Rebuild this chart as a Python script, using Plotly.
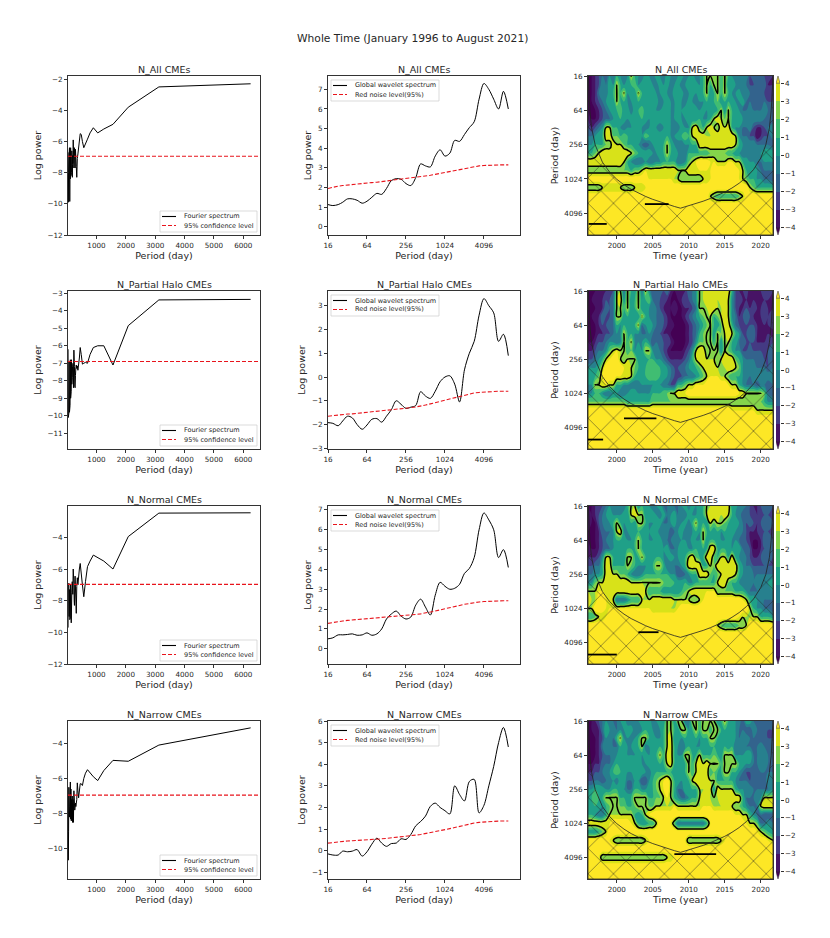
import plotly.graph_objects as go

W, H = 830, 938

panel_titles = ["N_All CMEs", "N_Partial Halo CMEs", "N_Normal CMEs", "N_Narrow CMEs"]

# column 1, fourier spectrum
fourier_periods = [6250, 3125, 2083, 1562, 1250, 1042, 893, 781, 694, 625, 568, 521, 481, 446, 417, 391, 368, 347, 329, 312,
                   298, 284, 272, 260, 250, 240, 231, 223, 216, 208, 202, 195, 189, 184, 178, 174, 160, 150, 140, 130,
                   120, 110, 100, 90, 80, 70, 60, 50, 40, 32]
fourier_all = [-2.3, -2.5, -3.8, -4.9, -5.2, -5.45, -5.12, -5.45, -5.85, -6.2, -6.4, -6.0, -5.55, -5.5, -6.2, -6.65, -6.8, -7.1, -8.3, -7.6,
               -6.9, -6.5, -7.7, -7.0, -6.4, -7.2, -7.7, -6.8, -6.2, -5.9, -6.6, -7.4, -6.9, -7.5, -8.3, -7.4, -6.6, -8.0, -6.9, -8.2,
               -6.4, -8.4, -6.6, -9.85, -6.4, -9.8, -7.0, -8.0, -9.9, -6.7]
fourier_halo = [-3.35, -3.38, -4.85, -7.1, -6.0, -6.0, -6.1, -6.5, -7.0, -6.95, -7.0, -7.05, -6.5, -6.1, -6.7, -7.3, -7.4, -7.15, -7.3, -7.1,
                -7.25, -7.7, -8.4, -8.3, -7.2, -6.4, -6.25, -7.0, -8.4, -7.5, -7.0, -7.7, -8.0, -7.2, -7.8, -7.0, -8.2, -6.8, -8.6, -7.2,
                -9.0, -6.8, -9.4, -7.0, -9.8, -6.9, -9.85, -6.6, -10.1, -6.2]
fourier_normal = [-2.45, -2.47, -3.95, -6.0, -5.5, -5.3, -5.12, -5.5, -5.85, -6.8, -7.75, -7.0, -6.0, -5.65, -6.0, -6.8, -7.0, -6.55, -7.1, -8.8,
                  -8.0, -7.0, -6.45, -7.0, -8.3, -8.0, -6.9, -6.6, -6.3, -6.0, -6.5, -7.6, -7.1, -7.6, -7.0, -6.8, -7.5, -8.5, -9.4, -7.6,
                  -7.0, -9.1, -8.0, -9.2, -7.3, -9.0, -6.9, -8.5, -7.0, -9.7]
fourier_narrow = [-3.12, -4.1, -5.02, -4.97, -5.55, -6.12, -5.9, -5.7, -5.5, -5.7, -6.0, -6.4, -6.3, -6.3, -6.9, -7.1, -6.7, -6.25, -7.2, -7.5,
                  -7.6, -7.4, -7.5, -7.8, -7.4, -6.9, -6.7, -7.4, -8.5, -7.8, -7.2, -8.2, -7.4, -8.5, -7.6, -7.0, -8.4, -7.2, -8.4, -6.6,
                  -8.3, -6.2, -8.0, -6.3, -8.2, -7.6, -6.5, -9.0, -10.65, -7.0]
conf_x = [30, 6570]
conf_levels = [-6.95, -6.9, -6.97, -6.95]

# column 2, global wavelet spectrum
wave_periods = [16, 19, 23, 27, 32, 38, 45, 54, 64, 76, 91, 108, 128, 152, 181, 215, 256, 304, 362, 431,
                512, 609, 724, 861, 1024, 1218, 1448, 1722, 2048, 2435, 2896, 3444, 4096, 4871, 5793, 6889, 8192, 9742]
gws_all = [1.13, 1.08, 1.13, 1.25, 1.42, 1.42, 1.35, 1.2, 1.3, 1.5, 1.7, 1.65, 1.95, 2.35, 2.45, 2.42, 2.2, 2.1, 2.5, 3.2,
           3.1, 3.05, 3.6, 3.92, 3.6, 3.75, 4.4, 4.35, 4.7, 5.05, 5.35, 6.5, 7.3, 7.0, 6.5, 6.0, 6.9, 6.0]
gws_halo = [-1.92, -1.95, -2.05, -1.85, -1.65, -1.72, -2.0, -2.2, -2.02, -1.78, -1.75, -1.9, -1.65, -1.38, -1.0, -1.15, -1.32, -1.27, -1.2, -0.62,
            -0.8, -0.9, -0.6, -0.2, 0.0, 0.05, -0.3, -1.05, 0.3, 1.0, 1.5, 2.6, 3.3, 3.0, 2.7, 1.5, 1.8, 0.9]
gws_normal = [0.5, 0.55, 0.7, 0.7, 0.72, 0.75, 0.68, 0.7, 0.8, 0.68, 0.75, 1.0, 1.5, 1.75, 1.9, 1.65, 1.5, 1.6, 2.2, 2.5,
              2.1, 1.7, 2.7, 3.35, 3.15, 3.0, 3.05, 3.25, 3.8, 4.05, 4.6, 6.0, 6.85, 6.5, 6.0, 4.6, 5.0, 4.1]
gws_narrow = [-0.15, -0.2, -0.2, -0.02, -0.05, -0.02, 0.05, -0.25, -0.05, 0.3, 0.58, 0.35, 0.2, 0.33, 0.35, 0.55, 0.52, 0.75, 1.15, 1.35,
              1.6, 2.05, 2.2, 2.0, 1.85, 1.7, 3.0, 2.6, 2.3, 3.2, 3.3, 1.75, 2.1, 3.0, 3.9, 5.0, 5.7, 4.8]
red_all = [1.95, 2.02, 2.07, 2.1, 2.13, 2.16, 2.19, 2.21, 2.22, 2.25, 2.27, 2.3, 2.33, 2.35, 2.38, 2.42, 2.44, 2.47, 2.5, 2.53,
           2.57, 2.62, 2.67, 2.72, 2.77, 2.82, 2.87, 2.93, 2.98, 3.02, 3.07, 3.1, 3.12, 3.14, 3.15, 3.15, 3.15, 3.15]
red_halo = [-1.65, -1.62, -1.6, -1.58, -1.56, -1.55, -1.53, -1.51, -1.5, -1.48, -1.46, -1.44, -1.42, -1.39, -1.37, -1.34, -1.32, -1.29, -1.26, -1.23,
            -1.18, -1.13, -1.08, -1.02, -0.97, -0.92, -0.86, -0.8, -0.75, -0.71, -0.67, -0.65, -0.63, -0.62, -0.61, -0.6, -0.6, -0.6]
red_normal = [1.28, 1.33, 1.37, 1.4, 1.43, 1.45, 1.47, 1.49, 1.5, 1.52, 1.54, 1.56, 1.58, 1.6, 1.62, 1.65, 1.67, 1.7, 1.73, 1.76,
              1.8, 1.85, 1.9, 1.96, 2.02, 2.07, 2.13, 2.19, 2.24, 2.28, 2.33, 2.36, 2.38, 2.4, 2.41, 2.41, 2.42, 2.42]
red_narrow = [0.35, 0.38, 0.41, 0.43, 0.45, 0.46, 0.47, 0.48, 0.49, 0.51, 0.53, 0.55, 0.57, 0.59, 0.61, 0.64, 0.66, 0.69, 0.72, 0.75,
              0.79, 0.83, 0.87, 0.92, 0.97, 1.02, 1.07, 1.13, 1.18, 1.23, 1.28, 1.31, 1.33, 1.35, 1.36, 1.37, 1.37, 1.37]

# column 3, wavelet power, one row per period, one value per half year
power_years = [1996, 1996.5, 1997, 1997.5, 1998, 1998.5, 1999, 1999.5, 2000, 2000.5,
               2001, 2001.5, 2002, 2002.5, 2003, 2003.5, 2004, 2004.5, 2005, 2005.5,
               2006, 2006.5, 2007, 2007.5, 2008, 2008.5, 2009, 2009.5, 2010, 2010.5,
               2011, 2011.5, 2012, 2012.5, 2013, 2013.5, 2014, 2014.5, 2015, 2015.5,
               2016, 2016.5, 2017, 2017.5, 2018, 2018.5, 2019, 2019.5, 2020, 2020.5,
               2021, 2021.7]
power_periods = [16, 23, 32, 45, 64, 91, 128, 181, 256, 362, 512, 724, 1024, 1448, 2048, 2896, 4096, 5793, 8192, 9830]
yellow = [5] * 52

power_all = [
    [-4,-4,-3,-2,-1,-2,0,-1,1,0, -1,0,3,1,0,-1,1,0,-1,1, 0,-1,1,0,-1,0,1,-1,0,1, -1,0,1,3,3,3,3,1,3,1, 0,-1,0,-1,0,-2,-1,-2,-1,-2, -2,-3],
    [-4,-4,-3,-2,0,-1,1,0,3,1, 0,1,1,2,0,1,0,1,0,-1, 1,0,1,-1,0,1,-1,0,1,0, 1,0,1,3,1,3,3,1,3,0, 1,0,-1,0,-1,-2,-2,-1,-2,-1, -3,-3],
    [-4,-4,-3,-1,0,-1,1,1,3,1, 3,0,1,0,3,1,1,0,1,0, 0,1,0,-1,1,0,1,-1,0,1, 0,1,1,3,0,1,3,1,3,1, 0,0,1,-1,0,-1,-1,-2,-1,-2, -2,-2],
    [-4,-4,-3,-2,-1,0,1,0,3,1, 1,0,0,1,1,0,1,0,1,1, -1,0,1,0,0,1,0,-1,1,0, -1,0,0,1,1,1,2,0,1,1, 1,0,0,1,-1,-1,-1,-2,-1,-1, -2,-2],
    [-4,-4,-4,-3,-2,-1,0,1,1,2, 0,1,-1,1,1,2,0,1,1,0, 0,1,1,0,0,1,0,1,0,1, 1,0,1,0,1,0,1,3,0,3, 1,1,0,-1,-1,0,-1,-1,-1,0, -1,-1],
    [-3,-4,-4,-3,-2,-1,-1,0,1,1, 1,0,1,1,0,1,1,0,1,1, 1,1,1,0,0,1,0,0,1,0, 0,1,0,0,1,3,4,3,2,3, 1,1,1,0,0,-1,0,0,0,-1, -1,-2],
    [-2,-3,-2,-1,0,3,3,1,1,0, -1,0,0,1,1,0,-1,0,1,0, -1,0,1,0,0,-1,1,0,0,3, 4,2,1,3,4,3,2,4,3,4, 1,0,0,-1,-1,0,-2,-3,-3,-2, -1,0],
    [-1,-1,0,1,1,4,4,2,2,1, 2,1,1,1,1,0,2,1,1,1, 1,1,1,0,0,1,1,2,1,3, 4,4,4,3,3,4,4,4,4,4, 4,3,0,-1,-1,-2,-2,-4,-3,-2, -2,0],
    [0,0,1,1,1,2,2,4,3,3, 2,1,1,0,0,-1,-2,-1,0,1, 1,1,3,1,0,-1,-1,0,0,1, 1,4,4,4,4,4,4,4,4,4, 4,3,1,0,0,0,0,-1,-1,-1, -1,-2],
    [1,1,2,3,4,4,4,4,4,4, 4,4,3,2,1,1,1,1,0,0, 1,1,3,1,1,0,0,-1,1,1, 1,1,1,1,2,2,2,2,2,1, 1,0,0,-1,-1,-1,-1,0,0,1, 1,1],
    [4,4,4,4,4,4,4,4,4,4, 3,1,0,-1,-1,-1,0,-1,-1,0, 0,1,1,1,1,-1,-1,0,2,3, 4,5,5,5,4,4,3,3,3,4, 4,3,3,1,1,0,0,-1,-1,0, 0,0],
    [2,2,2,2,2,2,2,2,2,2, 2,2,1,2,2,3,4,4,4,4, 4,4,4,4,4,3,3,3,4,4, 4,4,4,4,4,5,5,5,5,5, 5,5,4,3,1,1,1,0,-1,-1, -1,-1],
    [5,5,5,5,5,5,5,5,5,5, 5,5,5,5,5,5,5,4,4,4, 4,4,4,4,3,3,2,2,2,2, 2,2,3,3,4,5,5,5,5,5, 5,5,4,3,2,1,1,0,0,-1, -1,-2],
    [2,2,2,2,3,3,3,3,3,3, 2,2,2,3,3,3,4,5,5,5, 5,5,5,5,5,5,5,5,5,5, 5,5,5,5,5,5,5,5,5,5, 5,5,5,5,5,3,2,1,1,1, 1,1],
    [5,5,5,5,5,5,5,5,5,5, 5,5,5,5,5,5,5,5,5,5, 5,5,5,5,5,5,5,5,5,5, 5,5,5,5,3,2,1,1,1,1, 1,1,2,3,5,5,5,5,5,5, 5,5],
    yellow, yellow, yellow, yellow, yellow,
]
power_halo = [
    [-4,-4,-4,-3,-4,-3,-3,-2,3,3, -1,3,1,0,3,-1,3,0,-2,-1, -1,-2,-1,-3,-4,-3,-3,-3,-1,-1, 0,3,3,4,3,4,4,3,4,4, 1,-2,-3,-3,-2,-4,-4,-3,-3,-2, -2,-3],
    [-4,-4,-3,-3,-3,-2,-2,-1,3,4, 0,3,0,1,3,0,1,2,-1,-1, -2,-2,-3,-4,-4,-4,-3,-2,-2,-1, 0,3,3,4,4,4,3,4,4,3, 0,-2,-2,-3,-3,-3,-3,-3,-3,-3, -3,-3],
    [-4,-4,-4,-3,-3,-1,-2,-1,3,3, 1,3,0,1,3,0,1,0,0,-1, -2,-3,-3,-4,-3,-4,-4,-3,-3,-2, -1,3,3,3,4,4,3,3,4,3, 0,-2,-3,-3,-2,-3,-2,-3,-3,-2, -3,-3],
    [-4,-4,-3,-3,-1,-2,-2,-1,3,3, 0,1,0,1,0,3,1,0,0,-1, -1,-2,-3,-4,-4,-4,-4,-3,-2,-1, 0,1,2,3,3,1,2,3,4,3, 0,-1,-3,-2,-1,-2,-3,-3,-3,-2, -3,-2],
    [-4,-4,-4,-3,-2,-2,-1,-1,1,0, 1,1,0,1,3,-1,0,1,0,-1, -1,-2,-3,-3,-4,-4,-4,-4,-3,-2, -1,0,1,2,3,1,0,2,4,4, 1,-1,-2,-3,-2,-2,-2,-3,-4,-3, -3,-2],
    [-4,-4,-4,-3,-3,-2,-2,-1,0,0, 3,1,1,0,0,-1,-1,0,-1,-2, -2,-3,-3,-4,-4,-4,-4,-4,-3,-2, -1,1,2,3,3,0,3,2,3,4, 3,1,0,-2,-2,-1,-1,-3,-3,-3, -3,-4],
    [-4,-4,-3,-2,-2,-1,0,0,-1,0, 3,1,3,0,0,0,1,0,-2,-1, -1,-2,-2,-3,-4,-4,-4,-4,-3,-2, 0,2,2,3,3,1,3,0,3,3, 1,1,-1,-1,-2,-2,-2,-3,-3,-3, -2,-2],
    [-3,-3,-2,-1,-1,0,2,3,4,3, 3,1,2,0,1,0,3,3,0,0, -1,-2,-3,-4,-4,-4,-4,-3,-2,0, 3,4,4,2,3,3,3,0,3,2, 1,0,0,-2,-2,-1,-2,-2,-2,-2, -2,-1],
    [-2,-2,-1,0,1,3,4,5,5,3, 2,3,3,3,0,1,0,1,1,0, 0,-1,-2,-3,-3,-3,-3,-2,-1,1, 3,4,4,3,3,3,2,3,4,4, 4,2,1,0,-1,-1,-1,-1,-1,-2, -2,-1],
    [0,0,0,1,3,5,5,5,5,5, 4,4,3,2,1,1,1,2,2,2, 1,1,0,-1,-2,-2,-1,-1,0,1, 1,2,3,4,4,4,3,3,3,4, 4,3,2,0,0,0,0,-1,-1,-1, -2,-1],
    [1,1,1,2,4,5,5,5,4,4, 4,4,3,1,1,1,1,2,2,2, 1,1,0,-1,-2,-3,-2,-1,-1,-1, 0,1,2,3,4,4,4,3,3,2, 1,1,1,0,0,-1,0,0,0,0, 0,0],
    [0,0,3,3,4,4,3,3,1,1, 0,0,-1,-1,-1,0,0,0,0,0, 0,-1,-1,-2,-2,1,1,2,3,3, 4,4,4,5,5,5,5,5,5,4, 3,3,1,0,-1,-1,-1,-2,-1,-1, -2,-1],
    [0,0,1,1,0,-1,-1,0,0,-1, -1,0,1,1,0,0,0,0,1,1, 1,2,2,3,3,4,4,4,5,5, 5,5,5,5,5,5,5,5,5,5, 5,5,4,4,3,3,3,3,3,2, -1,-2],
    [2,2,2,2,2,2,2,2,2,2, 2,1,1,1,1,1,1,1,2,2, 2,2,2,2,2,2,2,2,2,2, 2,2,2,2,2,2,2,2,2,2, 2,2,2,2,2,2,2,2,2,1, 0,0],
    [5,5,5,5,5,5,5,5,5,5, 5,5,5,5,5,5,5,5,5,5, 5,5,5,5,5,5,5,5,5,5, 5,5,5,5,5,5,5,5,5,5, 4,4,4,4,4,4,4,3,3,3, 3,3],
    yellow, yellow, yellow, yellow, yellow,
]
power_normal = [
    [-4,-4,-3,-2,-2,-1,0,-1,0,0, -1,1,3,3,0,1,1,0,-1,0, 1,-1,-1,0,-1,-1,0,1,-1,1, 0,1,1,3,3,4,3,4,3,4, 0,1,-1,0,-1,-2,-3,-3,-2,-1, -1,-2],
    [-3,-4,-3,-2,-1,0,1,0,0,0, 1,0,3,4,3,3,0,1,1,0, -1,1,-1,0,1,-1,0,-1,1,0, 0,1,1,3,4,4,4,3,4,3, 1,0,0,-2,-1,-2,-2,-3,-2,-2, -2,-3],
    [-3,-4,-4,-2,-1,0,0,1,3,1, 0,1,1,0,3,3,1,0,0,1, 1,-1,-1,0,1,-1,0,1,-1,1, 3,0,1,0,3,2,3,3,2,1, 1,1,0,-1,-2,-1,-2,-3,-2,-1, -1,-2],
    [-4,-4,-4,-3,-1,-1,-1,0,3,4, 0,0,1,0,1,0,1,0,1,1, -1,0,0,-2,-1,0,1,-1,0,0, 1,0,3,1,1,0,1,0,1,0, 1,0,0,-1,-2,-3,-3,-3,-2,-2, -2,-2],
    [-4,-4,-4,-3,-2,-1,0,0,1,1, 1,0,0,1,3,1,1,0,0,1, 1,-1,-1,-1,0,-1,0,0,-1,1, 0,0,3,0,1,1,1,0,0,1, 0,0,-1,-1,-2,-3,-4,-4,-3,-1, -1,-2],
    [-3,-4,-4,-3,-2,-1,-1,0,1,1, 1,1,1,1,3,1,0,1,1,0, 1,0,1,-1,-1,0,1,1,0,0, 1,1,1,1,4,4,1,1,1,1, 0,1,1,-1,-1,-2,-4,-4,-3,-2, -2,-1],
    [-3,-3,-3,-2,0,3,3,1,1,0, 0,3,3,1,1,3,1,0,1,1, 1,0,0,1,0,0,1,1,3,4, 2,1,1,4,4,2,1,3,3,1, 4,1,0,0,-1,-2,-3,-3,-2,-1, -1,-2],
    [-2,-2,-1,-1,1,4,4,1,1,1, 1,3,2,1,0,0,0,1,1,3, 3,1,-1,-1,-1,-1,0,1,4,4, 4,4,1,1,3,2,4,4,4,4, 4,4,1,0,-1,-1,-2,-2,-2,-2, -2,-2],
    [-1,-1,0,0,1,4,4,3,3,2, 2,1,0,-1,-1,0,1,1,1,1, 1,1,1,0,0,-2,-2,-1,0,1, 1,4,4,4,2,1,2,3,4,4, 4,3,1,0,0,0,-1,-1,-1,-1, -1,-1],
    [0,0,2,3,3,4,4,4,4,4, 4,4,3,3,3,3,3,3,3,3, 3,2,2,2,1,1,1,1,0,0, 1,1,1,1,1,1,3,4,4,2, 1,1,0,-1,-1,0,-1,0,0,0, 0,1],
    [3,3,3,4,4,4,4,4,4,4, 4,4,4,4,4,4,3,1,1,1, 1,0,0,0,0,0,1,2,3,4, 4,4,4,4,4,4,2,2,2,2, 2,1,1,1,0,-1,-1,-1,0,0, 0,0],
    [4,3,3,5,5,4,3,3,-1,-1, -1,0,1,1,1,3,3,3,4,4, 4,4,4,4,3,3,3,3,3,2, 2,3,4,5,5,5,5,5,5,5, 5,5,5,4,3,1,1,0,0,-1, -1,-1],
    [3,3,5,5,5,4,4,4,4,4, 4,4,4,4,4,4,4,4,3,3, 3,3,3,3,3,4,5,5,5,5, 5,5,5,5,5,5,5,5,5,5, 5,5,5,5,5,3,1,0,0,-1, -1,-2],
    [1,1,2,3,3,4,5,5,5,5, 5,5,5,5,5,5,5,5,5,5, 5,5,5,5,5,5,5,5,5,5, 5,5,5,5,5,5,5,5,5,5, 5,5,4,3,3,3,3,3,1,1, 1,0],
    [5,5,5,5,5,5,5,5,5,5, 5,5,5,5,5,5,5,5,5,5, 5,5,5,5,5,5,5,5,5,5, 5,5,5,5,5,5,3,2,1,1, 1,1,2,2,3,5,5,5,5,5, 5,5],
    yellow, yellow, yellow, yellow, yellow,
]
power_narrow = [
    [-4,-4,-3,-2,-1,0,0,-1,-1,0, 1,-1,-1,0,0,1,0,1,-1,0, 1,0,3,3,0,3,3,-1,-1,3, 3,1,3,3,3,3,0,1,3,1, 1,0,0,-2,1,1,-1,-1,-1,-1, -1,-1],
    [-4,-4,-3,-3,-1,1,0,0,-1,0, 0,1,1,-1,-1,0,1,1,0,0, 0,1,3,3,1,0,3,3,0,1, 3,1,3,3,1,3,3,1,1,1, 1,0,-1,-1,-2,-2,0,-1,-1,-1, -2,-2],
    [-4,-4,-4,-3,-2,0,0,-1,1,3, 0,0,-1,0,1,3,3,1,1,0, 0,1,3,4,0,1,0,1,0,1, 1,0,1,1,3,3,1,0,1,0, 1,0,-1,0,0,-1,-1,-2,-2,-1, -2,-2],
    [-4,-4,-4,-3,-1,0,0,-1,-1,1, 1,0,0,1,1,3,-1,0,1,1, 1,1,3,4,1,0,-1,0,1,0, 0,0,1,0,1,1,0,1,1,0, 1,-1,0,-1,-1,-1,-2,-1,0,-1, -1,-1],
    [-4,-4,-4,-3,-2,-1,-1,0,0,1, 1,0,0,0,1,0,1,0,1,1, 3,1,4,4,1,0,0,3,3,1, 1,3,1,1,1,2,1,0,3,3, 3,0,0,0,1,1,-1,-1,0,0, -1,-1],
    [-4,-4,-3,-3,-1,-1,-1,0,1,1, 0,1,1,1,1,0,0,1,1,1, 1,1,3,4,1,1,1,1,3,1, 3,4,3,4,3,3,3,1,3,3, 3,3,1,1,0,0,-1,-1,0,0, -1,-1],
    [-3,-3,-2,-2,-1,0,0,1,2,1, 1,0,0,1,1,1,0,-1,1,1, 1,1,1,1,0,1,1,1,3,1, 3,4,3,4,1,2,1,1,3,3, 1,1,0,-1,-2,-2,-1,-1,-1,-1, -1,-1],
    [-2,-2,-1,-1,-2,-1,0,0,-1,1, 1,-1,-1,0,0,-2,-2,0,1,2, 3,4,5,3,1,1,0,1,1,3, 4,4,4,4,3,3,1,1,1,1, 1,0,-1,-1,-1,-2,-1,-1,-2,-2, 0,0],
    [0,0,1,1,1,0,0,1,1,0, 0,-1,-1,1,1,0,0,1,1,2, 3,4,5,3,1,-1,-1,1,1,1, 1,3,3,4,4,0,4,3,3,3, 3,1,0,0,0,0,-1,-1,-1,-1, -1,0],
    [1,1,2,1,1,3,3,3,3,1, 1,1,1,3,3,3,3,1,1,2, 2,3,4,3,1,0,-1,-1,0,1, 1,3,4,4,3,3,3,4,4,4, 4,4,4,1,-1,-1,-1,0,0,3, 3,3],
    [1,1,1,1,0,1,2,3,3,2, 2,1,1,2,3,3,3,2,2,3, 3,3,3,3,4,3,3,3,3,3, 3,3,4,4,4,3,3,3,3,3, 3,2,2,1,0,-1,-1,-1,3,4, 4,4],
    [1,1,0,-1,-1,1,3,3,3,3, 3,3,3,1,0,1,3,4,5,5, 5,5,5,5,5,5,5,5,5,5, 5,5,5,5,5,5,5,5,5,5, 5,4,4,3,3,1,0,-1,-1,-2, -2,-2],
    [4,4,4,4,4,4,4,5,5,5, 5,5,4,3,1,0,0,1,1,3, 5,5,5,4,2,-1,-1,-1,-1,-1, -1,-1,-1,1,4,5,5,5,5,5, 5,5,5,5,4,3,3,2,-1,-1, 0,-1],
    [0,0,0,1,2,3,5,5,5,5, 5,5,5,5,5,5,5,5,5,5, 5,5,5,5,5,5,5,5,5,5, 5,5,5,5,5,5,5,5,5,5, 5,5,5,5,5,5,5,4,3,2, 1,0],
    [5,5,5,5,5,5,4,3,2,2, 2,2,2,2,2,2,3,4,5,5, 5,5,5,5,5,5,5,4,2,2, 2,2,2,2,2,2,2,3,4,5, 5,5,5,5,5,5,5,5,5,5, 4,3],
    yellow,
    [5,5,5,4,2,2,2,2,2,2, 2,2,2,2,2,2,2,2,2,2, 2,2,3,3,4,4,5,5,5,5, 5,5,5,5,5,5,5,5,5,5, 5,5,5,5,5,5,5,5,5,5, 5,5],
    yellow, yellow, yellow,
]

# cone of influence
coi_years = [1996.06, 1996.12, 1996.25, 1996.5, 1997, 1998, 1999, 2000, 2001, 2002, 2003, 2004, 2005, 2006, 2007, 2008, 2008.85,
             2010, 2011, 2012, 2013, 2014, 2015, 2016, 2017, 2018, 2019, 2020, 2020.7, 2021.2, 2021.45, 2021.58, 2021.64]
coi_periods = [16, 31, 65, 130, 259, 518, 777, 1036, 1295, 1554, 1813, 2072, 2331, 2590, 2849, 3108, 3330,
               3030, 2770, 2510, 2250, 1990, 1735, 1475, 1215, 955, 700, 440, 259, 130, 65, 31, 16]

# short significance bars low in the scalograms: start year, end year, period
sig_all = [(1996.1, 1998.6, 6290), (2003.9, 2007.2, 2820)]
sig_halo = [(1996, 1998.1, 6700), (2001, 2005.5, 2830)]
sig_normal = [(1996, 2000, 6700), (2003, 2005.8, 2700)]
sig_narrow = [(2008, 2013.8, 3565)]

fourier_rows = [fourier_all, fourier_halo, fourier_normal, fourier_narrow]
gws_rows = [gws_all, gws_halo, gws_normal, gws_narrow]
red_rows = [red_all, red_halo, red_normal, red_narrow]
power_rows = [power_all, power_halo, power_normal, power_narrow]
sig_rows = [sig_all, sig_halo, sig_normal, sig_narrow]
for grid in power_rows:
    assert all(len(r) == len(power_years) for r in grid) and len(grid) == len(power_periods)

# pixel boxes and ranges
row_top = [76, 291, 506, 721]
row_bottom = [235, 449, 664, 879]
col_box = [(68, 260), (328, 520), (588, 773)]
bar_box = (776, 780)
left_ranges = [(-12, -1.8), (-11.9, -2.87), (-12, -2.02), (-11.72, -2.73)]
left_ticks = [[-2, -4, -6, -8, -10, -12], [-3, -4, -5, -6, -7, -8, -9, -10, -11], [-4, -6, -8, -10, -12], [-4, -6, -8, -10]]
mid_ranges = [(-0.42, 7.68), (-3.03, 3.62), (-0.77, 7.2), (-1.31, 6.0)]
mid_ticks = [[0, 1, 2, 3, 4, 5, 6, 7], [-3, -2, -1, 0, 1, 2, 3], [0, 1, 2, 3, 4, 5, 6, 7], [-1, 0, 1, 2, 3, 4, 5, 6]]
period_ticks = [16, 64, 256, 1024, 4096]
x_log_range = [1.2041, 4.169]
y_log_range = [3.9926, 1.2041]

bands = ["#440154", "#471365", "#443a83", "#33638d", "#27808e", "#1fa088", "#40bd72", "#84d44b", "#d8e219", "#fde725"]
band_scale = []
for i, c in enumerate(bands):
    band_scale += [[i / 10, c], [(i + 1) / 10, c]]
bar_mids = [-3.5, -2.5, -1.5, -0.5, 0.5, 1.5, 2.5, 3.5]
bar_edges = [-4, -3, -2, -1, 0, 1, 2, 3, 4]

FONT = "DejaVu Sans"
INK = "#262626"
RED = "#e8141c"
HATCH = dict(shape="x", size=18, solidity=0.1, fgcolor="#222222", bgcolor="rgba(0,0,0,0)")


def xdom(box):
    return [box[0] / W, box[1] / W]


def ydom(top, bottom):
    return [1 - bottom / H, 1 - top / H]


def ref(letter, n):
    return letter if n == 1 else letter + str(n)


def lay(letter, n):
    return letter + "axis" + ("" if n == 1 else str(n))


axis_style = dict(showline=True, mirror=True, linecolor="#333333", linewidth=0.8, ticks="outside", ticklen=3, tickwidth=0.7,
                  tickcolor="#333333", showgrid=False, zeroline=False, automargin=False, tickfont=dict(size=7.2, color=INK),
                  title_font=dict(size=9.5, color=INK))

fig = go.Figure()
layout = {}
notes = []
boxes = []


def px_line(x0, x1, y, **line):
    boxes.append(dict(type="line", xref="paper", yref="paper", x0=x0 / W, x1=x1 / W, y0=1 - y / H, y1=1 - y / H, line=line))


def px_text(text, x, y, size, anchor="center"):
    notes.append(dict(text=text, x=x / W, y=1 - y / H, xref="paper", yref="paper", xanchor=anchor, yanchor="middle",
                      showarrow=False, font=dict(size=size, color=INK)))


def add_legend(left, right, top, bottom, first, second):
    # plotly legend rows cannot go below 19px, the boxes here are much tighter
    boxes.append(dict(type="rect", xref="paper", yref="paper", x0=left / W, x1=right / W, y0=1 - bottom / H, y1=1 - top / H,
                      fillcolor="rgba(255,255,255,0.8)", line=dict(color="#cccccc", width=0.7)))
    px_line(left + 2, left + 16, top + 5.5, color="black", width=1.1)
    px_line(left + 2, left + 16, top + 14.5, color=RED, width=1.1, dash="4px,2px")
    px_text(first, left + 22, top + 5.5, 6.5, "left")
    px_text(second, left + 22, top + 14.5, 6.5, "left")


n = 0
for row in range(4):
    # fourier spectrum
    n += 1
    fig.add_trace(go.Scatter(x=fourier_periods, y=fourier_rows[row], mode="lines", line=dict(color="black", width=1),
                             xaxis=ref("x", n), yaxis=ref("y", n)))
    fig.add_trace(go.Scatter(x=conf_x, y=[conf_levels[row]] * 2, mode="lines", line=dict(color=RED, width=1.1, dash="4px,2px"),
                             xaxis=ref("x", n), yaxis=ref("y", n)))
    layout[lay("x", n)] = dict(axis_style, domain=xdom(col_box[0]), range=[30, 6570], anchor=ref("y", n),
                               tickvals=[1000, 2000, 3000, 4000, 5000, 6000], title=dict(text="Period (day)", standoff=3))
    layout[lay("y", n)] = dict(axis_style, domain=ydom(row_top[row], row_bottom[row]), range=list(left_ranges[row]),
                               anchor=ref("x", n), tickvals=left_ticks[row], title=dict(text="Log power", standoff=4))
    add_legend(160, 257, row_bottom[row] - 24, row_bottom[row] - 3, "Fourier spectrum", "95% confidence level")
    px_text(panel_titles[row], sum(col_box[0]) / 2, row_top[row] - 7, 9.5)

    # global wavelet spectrum
    n += 1
    fig.add_trace(go.Scatter(x=wave_periods, y=gws_rows[row], mode="lines", line=dict(color="black", width=1, shape="spline", smoothing=0.9),
                             xaxis=ref("x", n), yaxis=ref("y", n)))
    fig.add_trace(go.Scatter(x=wave_periods, y=red_rows[row], mode="lines", line=dict(color=RED, width=1.1, dash="4px,2px"),
                             xaxis=ref("x", n), yaxis=ref("y", n)))
    layout[lay("x", n)] = dict(axis_style, domain=xdom(col_box[1]), type="log", range=x_log_range, anchor=ref("y", n),
                               tickvals=period_ticks, ticktext=[str(p) for p in period_ticks],
                               title=dict(text="Period (day)", standoff=3))
    layout[lay("y", n)] = dict(axis_style, domain=ydom(row_top[row], row_bottom[row]), range=list(mid_ranges[row]),
                               anchor=ref("x", n), tickvals=mid_ticks[row], title=dict(text="Log power", standoff=4))
    add_legend(331, 439, row_top[row] + 4, row_top[row] + 25, "Global wavelet spectrum", "Red noise level(95%)")
    px_text(panel_titles[row], sum(col_box[1]) / 2, row_top[row] - 7, 9.5)

    # scalogram
    n += 1
    fig.add_trace(go.Contour(x=power_years, y=power_periods, z=power_rows[row], zmin=-5, zmax=5, colorscale=band_scale, showscale=False,
                             autocontour=False, contours=dict(coloring="fill", start=-4, end=4, size=1, showlines=False),
                             line=dict(width=0), xaxis=ref("x", n), yaxis=ref("y", n), hoverinfo="skip"))
    fig.add_trace(go.Contour(x=power_years, y=power_periods, z=power_rows[row], showscale=False, autocontour=False,
                             contours=dict(coloring="none", start=2.95, end=2.95, size=1),
                             line=dict(color="black", width=1.5), xaxis=ref("x", n), yaxis=ref("y", n), hoverinfo="skip"))
    hatch_x = coi_years + [2021.7, 2021.7, 1996, 1996, coi_years[0]]
    hatch_y = coi_periods + [16, power_periods[-1], power_periods[-1], 16, 16]
    fig.add_trace(go.Scatter(x=hatch_x, y=hatch_y, mode="lines", fill="toself", fillcolor="rgba(0,0,0,0)", fillpattern=HATCH,
                             line=dict(color="#222222", width=0.8), xaxis=ref("x", n), yaxis=ref("y", n)))
    for x0, x1, p in sig_rows[row]:
        fig.add_trace(go.Scatter(x=[x0, x1], y=[p, p], mode="lines", line=dict(color="black", width=1.8),
                                 xaxis=ref("x", n), yaxis=ref("y", n)))
    layout[lay("x", n)] = dict(axis_style, domain=xdom(col_box[2]), range=[1996, 2021.7], anchor=ref("y", n),
                               tickvals=[2000, 2005, 2010, 2015, 2020], title=dict(text="Time (year)", standoff=3))
    layout[lay("y", n)] = dict(axis_style, domain=ydom(row_top[row], row_bottom[row]), type="log", range=y_log_range,
                               anchor=ref("x", n), tickvals=period_ticks, ticktext=[str(p) for p in period_ticks],
                               title=dict(text="Period (day)", standoff=4))
    px_text(panel_titles[row], sum(col_box[2]) / 2, row_top[row] - 7, 9.5)

    # colorbar with pointed ends
    n += 1
    fig.add_trace(go.Heatmap(x=[0, 1], y=bar_edges, z=[[m] for m in bar_mids], zmin=-5, zmax=5, colorscale=band_scale, showscale=False,
                             xaxis=ref("x", n), yaxis=ref("y", n), hoverinfo="skip"))
    for base, tip, color in [(4, 4.4, bands[-1]), (-4, -4.4, bands[0])]:
        fig.add_trace(go.Scatter(x=[0, 1, 0.5, 0], y=[base, base, tip, base], mode="lines", fill="toself", fillcolor=color,
                                 line=dict(color="#333333", width=0.5), xaxis=ref("x", n), yaxis=ref("y", n)))
    layout[lay("x", n)] = dict(domain=xdom(bar_box), range=[0, 1], visible=False, automargin=False, anchor=ref("y", n))
    layout[lay("y", n)] = dict(domain=ydom(row_top[row], row_bottom[row]), range=[-4.4, 4.4], anchor=ref("x", n), side="right",
                               tickvals=bar_edges, ticks="outside", ticklen=2.5, tickwidth=0.7, tickcolor="#333333", showgrid=False,
                               zeroline=False, showline=False, automargin=False, tickfont=dict(size=7.2, color=INK))

px_text("Whole Time (January 1996 to August 2021)", 412, 38, 10.7)

fig.update_layout(width=W, height=H, margin=dict(l=0, r=0, t=0, b=0, autoexpand=False), paper_bgcolor="white", plot_bgcolor="white",
                  font=dict(family=FONT, color=INK), annotations=notes, shapes=boxes, showlegend=False, **layout)
# page margin and scrollbars would push the figure off the 830x938 window
fig.write_html("out.html", config={"displayModeBar": False},
               post_script="document.body.style.margin='0';document.documentElement.style.overflow='hidden';")
